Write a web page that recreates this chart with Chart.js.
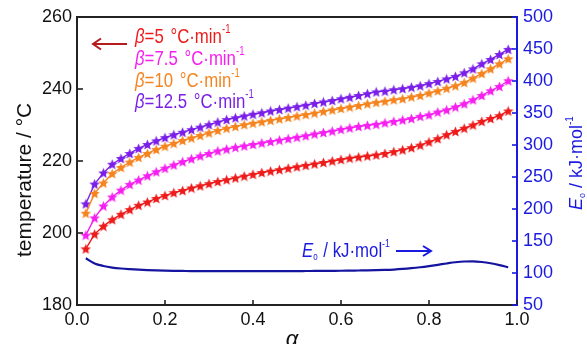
<!DOCTYPE html>
<html>
<head>
<meta charset="utf-8">
<script src="https://cdn.jsdelivr.net/npm/chart.js@4.4.1/dist/chart.umd.min.js"></script>
<style>
html,body{margin:0;padding:0;background:#fff;}
#wrap{width:587px;height:344px;position:relative;}
</style>
</head>
<body>
<div id="wrap"><canvas id="c"></canvas></div>
<script>
// ---------- data ----------
const alpha = [0.02,0.04,0.06,0.08,0.10,0.12,0.14,0.16,0.18,0.20,0.22,0.24,0.26,0.28,0.30,0.32,0.34,0.36,0.38,0.40,0.42,0.44,0.46,0.48,0.50,0.52,0.54,0.56,0.58,0.60,0.62,0.64,0.66,0.68,0.70,0.72,0.74,0.76,0.78,0.80,0.82,0.84,0.86,0.88,0.90,0.92,0.94,0.96,0.98];
const tempB5 = [195.6,199.7,201.9,203.7,205.2,206.5,207.7,208.6,209.6,210.4,211.2,211.8,212.5,213.1,213.7,214.3,214.8,215.3,215.8,216.3,216.8,217.2,217.6,218.0,218.4,218.8,219.2,219.6,220.0,220.4,220.8,221.1,221.4,221.7,222.1,222.6,223.1,223.7,224.4,225.3,226.2,227.3,228.2,229.1,230.0,231.0,231.8,232.6,233.9];
const tempB75 = [199.4,204.2,207.5,210.0,211.9,213.5,214.7,215.9,217.0,218.0,218.9,219.8,220.6,221.4,222.1,222.8,223.3,223.8,224.2,224.6,225.0,225.4,225.8,226.2,226.6,227.0,227.5,227.9,228.3,228.8,229.2,229.6,229.9,230.2,230.6,231.0,231.4,231.8,232.4,232.8,233.6,234.2,235.0,235.9,237.0,238.2,239.5,240.7,242.3];
const tempB10 = [205.5,211.0,213.9,216.5,218.2,219.7,221.0,222.1,223.2,224.1,224.9,225.7,226.4,227.1,227.8,228.5,229.1,229.6,230.1,230.5,230.9,231.3,231.7,232.1,232.5,232.9,233.3,233.8,234.2,234.6,235.0,235.4,235.9,236.3,236.6,237.0,237.3,237.8,238.2,238.9,239.5,240.2,240.9,241.8,243.0,244.3,245.6,247.0,248.4];
const tempB125 = [208.1,213.6,216.7,219.1,220.7,222.1,223.5,224.6,225.6,226.5,227.3,228.0,228.7,229.4,230.1,230.8,231.5,232.0,232.5,233.0,233.4,233.9,234.3,234.7,235.1,235.5,236.0,236.4,236.8,237.3,237.7,238.2,238.7,239.2,239.4,239.8,240.1,240.5,240.9,241.5,242.1,242.8,243.5,244.5,245.6,247.0,248.2,249.6,251.0];
const energyEa = [123,115,111,108.5,107,106,105.2,104.6,104.1,103.7,103.4,103.2,103.0,103.0,102.9,102.9,102.9,102.9,102.9,102.9,102.9,103.0,103.0,103.0,103.0,103.1,103.2,103.3,103.4,103.5,103.7,103.9,104.1,104.4,104.8,105.4,106.3,107.5,109.0,110.8,112.8,114.9,116.8,118.0,118.2,117.2,115.2,112.4,109.0];
const xTicks = [0.0,0.2,0.4,0.6,0.8,1.0];
const tempTicks = [180,200,220,240,260];
const eaTicks = [50,100,150,200,250,300,350,400,450,500];
const seriesNames = ['5','7.5','10','12.5'];

// ---------- styles ----------
const RED='#ee1b1b', MAG='#f61ff0', ORA='#f5841f', PUR='#7a1fe8';
const BLUE_LINE='#1414a0', BLUE_AX='#1a1ae0';
const REG='"Liberation Sans", Arial, sans-serif';
const SQ=0.8; // horizontal squeeze of the reference lettering

function makeStar(color, size){
  const c=document.createElement('canvas'); c.width=size; c.height=size;
  const g=c.getContext('2d'); g.fillStyle=color; g.beginPath();
  const cx=size/2, cy=size/2+0.5, R=size/2, r=R*0.45;
  for(let i=0;i<10;i++){const a=-Math.PI/2+i*Math.PI/5; const rr=i%2?r:R; g.lineTo(cx+rr*Math.cos(a), cy+rr*Math.sin(a));}
  g.closePath(); g.fill(); return c;
}
const pts = arr => alpha.map((a,i)=>({x:a,y:arr[i]}));
function starSet(arr,color){
  return {data:pts(arr), yAxisID:'y', borderColor:color, backgroundColor:color, borderWidth:1.4,
    pointStyle:makeStar(color,11), pointRadius:5, tension:0, fill:false};
}

function runs(ctx,x,y,list,sx){
  let cx=x;
  for(const r of list){
    ctx.font=r.font; ctx.fillStyle=r.color;
    ctx.save(); ctx.translate(cx,y+(r.dy||0)); ctx.scale(sx,1); ctx.fillText(r.text,0,0); ctx.restore();
    cx+=ctx.measureText(r.text).width*sx+(r.gap||0);
  }
  return cx;
}

const decor = {
  id:'decor',
  afterDraw(chart){
    const ctx=chart.ctx, a=chart.chartArea;
    const sx=chart.scales.x, sy=chart.scales.y, sy2=chart.scales.y2;
    ctx.save();
    // top frame
    ctx.strokeStyle='#222'; ctx.lineWidth=2;
    ctx.beginPath(); ctx.moveTo(a.left-1,a.top); ctx.lineTo(a.right,a.top); ctx.stroke();
    // inward ticks
    ctx.lineWidth=1.6; ctx.strokeStyle='#222';
    tempTicks.forEach(v=>{const p=sy.getPixelForValue(v); ctx.beginPath(); ctx.moveTo(a.left,p); ctx.lineTo(a.left+6,p); ctx.stroke();});
    xTicks.forEach(v=>{const p=sx.getPixelForValue(v); ctx.beginPath(); ctx.moveTo(p,a.bottom); ctx.lineTo(p,a.bottom-5); ctx.stroke();});
    ctx.strokeStyle=BLUE_AX;
    eaTicks.forEach(v=>{const p=sy2.getPixelForValue(v); ctx.beginPath(); ctx.moveTo(a.right,p); ctx.lineTo(a.right-5,p); ctx.stroke();});

    ctx.textBaseline='alphabetic'; ctx.textAlign='left';
    // left title
    ctx.save(); ctx.translate(31,257); ctx.rotate(-Math.PI/2);
    ctx.font='21px '+REG; ctx.fillStyle='#111'; ctx.fillText('temperature / °C',0,0); ctx.restore();
    // right title
    ctx.save(); ctx.translate(582,210); ctx.rotate(-Math.PI/2);
    runs(ctx,0,0,[
      {text:'E',font:'italic 18px '+REG,color:BLUE_AX},
      {text:'o',font:'9px '+REG,color:BLUE_AX,dy:3},
      {text:' / kJ·mol',font:'18px '+REG,color:BLUE_AX},
      {text:'-1',font:'10px '+REG,color:BLUE_AX,dy:-9}
    ],1); ctx.restore();
    // x title
    ctx.font='italic 22px '+REG; ctx.fillStyle='#111'; ctx.textAlign='center';
    ctx.fillText('α',292,346); ctx.textAlign='left';

    // legend
    const cols=[RED,MAG,ORA,PUR], bases=[43,65,86.7,108];
    seriesNames.forEach((n,i)=>{
      runs(ctx,135,bases[i],[
        {text:'β',font:'italic 21px '+REG,color:cols[i]},
        {text:'='+n+' ',font:'21px '+REG,color:cols[i],gap:2},
        {text:'°C·min',font:'21px '+REG,color:cols[i]},
        {text:'-1',font:'12px '+REG,color:cols[i],dy:-10}
      ],SQ);
    });
    // red arrow
    ctx.strokeStyle='#b51d1d'; ctx.lineWidth=2;
    ctx.beginPath(); ctx.moveTo(127,44); ctx.lineTo(93,44); ctx.stroke();
    ctx.beginPath(); ctx.moveTo(101,38.5); ctx.lineTo(93,44); ctx.lineTo(101,49.5); ctx.stroke();

    // Ea annotation
    runs(ctx,302,257,[
      {text:'E',font:'italic 21px '+REG,color:BLUE_AX},
      {text:'o',font:'10px '+REG,color:BLUE_AX,dy:3,gap:1},
      {text:' / kJ·mol',font:'21px '+REG,color:BLUE_AX},
      {text:'-1',font:'11px '+REG,color:BLUE_AX,dy:-10}
    ],SQ);
    ctx.strokeStyle=BLUE_AX; ctx.lineWidth=2;
    ctx.beginPath(); ctx.moveTo(396,251); ctx.lineTo(431,251); ctx.stroke();
    ctx.beginPath(); ctx.moveTo(423,246); ctx.lineTo(431,251); ctx.lineTo(423,256); ctx.stroke();
    ctx.restore();
  }
};

new Chart(document.getElementById('c'),{
  type:'line',
  data:{datasets:[
    starSet(tempB5,RED), starSet(tempB75,MAG), starSet(tempB10,ORA), starSet(tempB125,PUR),
    {data:pts(energyEa), yAxisID:'y2', borderColor:BLUE_LINE, borderWidth:2.2, pointRadius:0, tension:0.4, cubicInterpolationMode:'monotone', fill:false}
  ]},
  options:{
    responsive:true, maintainAspectRatio:false, animation:false,
    layout:{padding:{top:17,left:0,right:0,bottom:0}},
    plugins:{legend:{display:false}, tooltip:{enabled:false}},
    scales:{
      x:{type:'linear', min:0, max:1,
        afterBuildTicks:s=>{s.ticks=xTicks.map(v=>({value:v}));},
        afterFit:s=>{s.height=39;},
        grid:{display:true, drawOnChartArea:false, drawTicks:false},
        border:{display:true,color:'#222',width:2},
        ticks:{autoSkip:false, maxRotation:0, padding:4, color:'#111', font:{family:REG,size:18}, callback:v=>Number(v).toFixed(1)}},
      y:{type:'linear', position:'left', min:180, max:260,
        afterBuildTicks:s=>{s.ticks=tempTicks.map(v=>({value:v}));},
        afterFit:s=>{s.width=77;},
        grid:{display:true, drawOnChartArea:false, drawTicks:false},
        border:{display:true,color:'#222',width:2},
        ticks:{autoSkip:false, padding:5, color:'#111', font:{family:REG,size:18}}},
      y2:{type:'linear', position:'right', min:50, max:500,
        afterBuildTicks:s=>{s.ticks=eaTicks.map(v=>({value:v}));},
        afterFit:s=>{s.width=70;},
        grid:{display:true, drawOnChartArea:false, drawTicks:false},
        border:{display:true,color:BLUE_AX,width:2},
        ticks:{autoSkip:false, padding:6, color:BLUE_AX, font:{family:REG,size:18}}}
    }
  },
  plugins:[decor]
});
</script>
</body>
</html>
